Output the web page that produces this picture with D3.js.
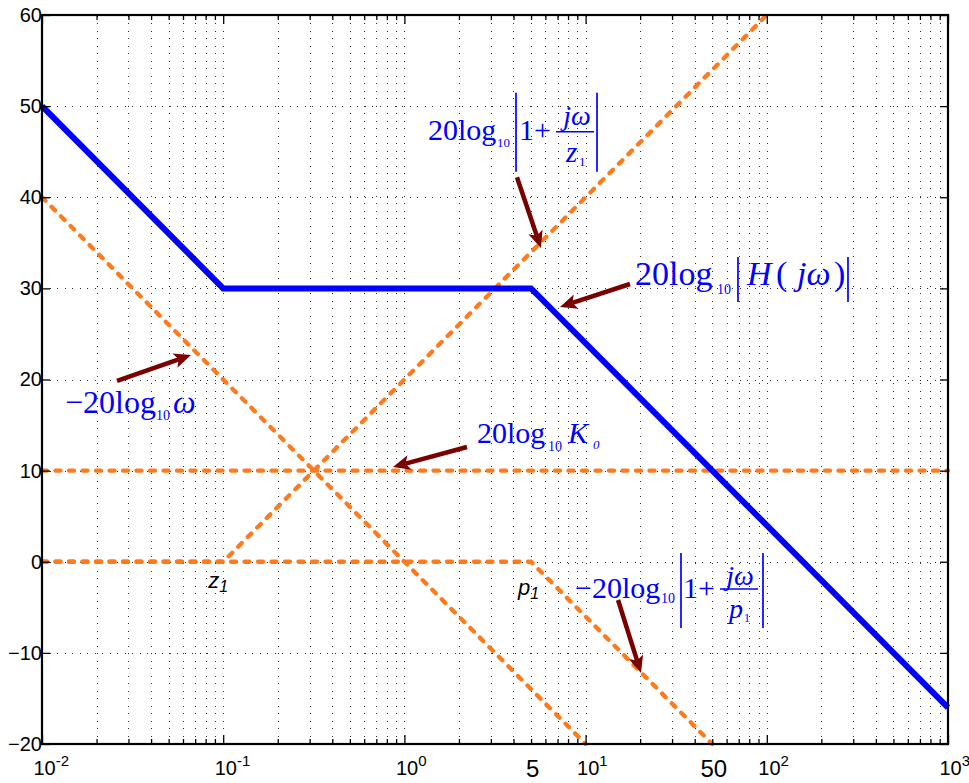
<!DOCTYPE html>
<html>
<head>
<meta charset="utf-8">
<script src="https://cdn.jsdelivr.net/npm/d3@7"></script>
<style>
  html, body { margin: 0; padding: 0; background: #ffffff; }
  svg { display: block; }
</style>
</head>
<body>
<script>
// Asymptotic Bode magnitude plot: H(jω) = K0 (1 + jω/z1) / (jω (1 + jω/p1))

// --- series breakpoints (frequency in rad/s, magnitude in dB) ---
const integratorW  = [0.01, 10];
const integratorDb = [40, -20];

const gainW  = [0.01, 1000];
const gainDb = [10, 10];

const zeroW  = [0.01, 0.1, 100];
const zeroDb = [0, 0, 60];

const poleW  = [0.01, 5, 50];
const poleDb = [0, 0, -20];

const totalW  = [0.01, 0.1, 5, 1000];
const totalDb = [50, 30, 30, -16];

// --- axis ticks ---
const yTicks = [-20, -10, 0, 10, 20, 30, 40, 50, 60];
const decadeTicks = [0.01, 0.1, 1, 10, 100, 1000];
const decadeExps = ["-2", "-1", "0", "1", "2", "3"];
const extraTicks = [5, 50];
const extraTickLabels = ["5", "50"];

// --- break-frequency markers ---
const breakW = [0.1, 5];
const breakNames = ["z", "p"];

// --- annotation arrows (tail -> head, in data units) ---
const arrowFromW  = [4.18, 17.58, 0.02594, 2.215, 15.10];
const arrowFromDb = [42.2, 30.48, 19.84, 12.59, -4.20];
const arrowToW    = [5.67, 7.22, 0.0664, 0.865, 20.22];
const arrowToDb   = [34.43, 27.96, 22.69, 10.40, -12.21];

// --- formula label anchors (data units) ---
const labelAnchorW  = [1.35, 18.73, 0.01339, 2.515, 8.74];
const labelAnchorDb = [46.3, 30.37, 16.32, 13.03, -3.98];

const W = 969, H = 783;
const plot = { left: 42, right: 948, top: 15, bottom: 744 };

const svg = d3.select("body").append("svg")
  .attr("width", W).attr("height", H)
  .attr("viewBox", `0 0 ${W} ${H}`);

const x = d3.scaleLog().domain([1e-2, 1e3]).range([plot.left, plot.right]);
const y = d3.scaleLinear().domain([-20, 60]).range([plot.bottom, plot.top]);

const allLogTicks = x.ticks();
const minorTicks = allLogTicks.filter(d => Math.abs(Math.log10(d) - Math.round(Math.log10(d))) > 1e-9);

const plotW = plot.right - plot.left;
const plotH = plot.bottom - plot.top;
const sansFont = "'Liberation Sans', Arial, Helvetica, sans-serif";

// ---------- grid ----------
const gridX = svg.append("g")
  .attr("transform", `translate(0,${plot.bottom})`)
  .call(d3.axisBottom(x).tickValues(allLogTicks).tickSizeInner(-plotH).tickSizeOuter(0).tickFormat(""));
const gridY = svg.append("g")
  .attr("transform", `translate(${plot.left},0)`)
  .call(d3.axisLeft(y).tickValues(yTicks).tickSizeInner(-plotW).tickSizeOuter(0).tickFormat(""));
[gridX, gridY].forEach(g => {
  g.select(".domain").remove();
  g.attr("shape-rendering", "crispEdges");
  g.selectAll("line")
    .attr("stroke", "#2a2a2a")
    .attr("stroke-width", 1)
    .attr("stroke-dasharray", "1,6.5");
});

// ---------- curves ----------
const line = d3.line().x(d => x(d[0])).y(d => y(d[1]));
const zip = (a, b) => a.map((v, i) => [v, b[i]]);

const orange = "#ff7a1c";
const dashedSeries = [
  zip(integratorW, integratorDb),
  zip(gainW, gainDb),
  zip(zeroW, zeroDb),
  zip(poleW, poleDb)
];
svg.append("g").selectAll("path")
  .data(dashedSeries)
  .join("path")
  .attr("d", line)
  .attr("fill", "none")
  .attr("stroke", orange)
  .attr("stroke-width", 4.3)
  .attr("stroke-linecap", "round")
  .attr("stroke-dasharray", "5,8.5");

svg.append("path")
  .datum(zip(totalW, totalDb))
  .attr("d", line)
  .attr("fill", "none")
  .attr("stroke", "#0000ff")
  .attr("stroke-width", 6)
  .attr("stroke-linejoin", "miter");

// ---------- frame & ticks ----------
svg.append("rect")
  .attr("x", plot.left).attr("y", plot.top)
  .attr("width", plotW).attr("height", plotH)
  .attr("fill", "none").attr("stroke", "#000").attr("stroke-width", 2.2);

function styleTicks(g) {
  g.select(".domain").remove();
  g.selectAll(".tick line").attr("stroke", "#000").attr("stroke-width", 1.3);
  return g;
}

// bottom: decades (labelled 10^n), minor, and the 5 / 50 markers
const xBottom = svg.append("g")
  .attr("transform", `translate(0,${plot.bottom})`)
  .call(d3.axisBottom(x).tickValues(decadeTicks).tickSizeInner(-9).tickSizeOuter(0).tickFormat(""));
styleTicks(xBottom);
xBottom.selectAll(".tick text").remove();
xBottom.selectAll(".tick").each(function(d, i) {
  const t = d3.select(this).append("text")
    .attr("x", -9).attr("y", 31)
    .attr("fill", "#000")
    .attr("font-family", sansFont)
    .attr("font-size", 20)
    .attr("text-anchor", "start");
  t.append("tspan").text("10");
  t.append("tspan").attr("dy", -9).attr("font-size", 15).text(decadeExps[i]);
});

styleTicks(svg.append("g")
  .attr("transform", `translate(0,${plot.bottom})`)
  .call(d3.axisBottom(x).tickValues(minorTicks).tickSizeInner(-5).tickSizeOuter(0).tickFormat("")));

const xExtra = svg.append("g")
  .attr("transform", `translate(0,${plot.bottom})`)
  .call(d3.axisBottom(x).tickValues(extraTicks).tickSize(0).tickFormat((d, i) => extraTickLabels[i]));
xExtra.select(".domain").remove();
xExtra.selectAll(".tick text")
  .attr("y", 33).attr("dy", 0).attr("x", 1)
  .attr("fill", "#000")
  .attr("font-family", sansFont)
  .attr("font-size", 24);

// top
styleTicks(svg.append("g")
  .attr("transform", `translate(0,${plot.top})`)
  .call(d3.axisTop(x).tickValues(decadeTicks).tickSizeInner(-9).tickSizeOuter(0).tickFormat("")));
styleTicks(svg.append("g")
  .attr("transform", `translate(0,${plot.top})`)
  .call(d3.axisTop(x).tickValues(minorTicks).tickSizeInner(-5).tickSizeOuter(0).tickFormat("")));

// left (labelled) and right
const yLeft = svg.append("g")
  .attr("transform", `translate(${plot.left},0)`)
  .call(d3.axisLeft(y).tickValues(yTicks).tickSizeInner(-8).tickSizeOuter(0).tickPadding(0));
styleTicks(yLeft);
yLeft.selectAll(".tick text")
  .attr("x", 0)
  .attr("fill", "#000")
  .attr("font-family", sansFont)
  .attr("font-size", 20);

styleTicks(svg.append("g")
  .attr("transform", `translate(${plot.right},0)`)
  .call(d3.axisRight(y).tickValues(yTicks).tickSizeInner(-8).tickSizeOuter(0).tickFormat("")));

// ---------- break-frequency names (z1, p1) ----------
const breakOffsets = [[-15, 26], [-13, 33]];
breakW.forEach((w, i) => {
  const t = svg.append("text")
    .attr("x", x(w) + breakOffsets[i][0])
    .attr("y", y(0) + breakOffsets[i][1])
    .attr("fill", "#000")
    .attr("font-family", sansFont)
    .attr("font-style", "italic")
    .attr("font-size", 22);
  t.append("tspan").text(breakNames[i]);
  t.append("tspan").attr("dy", 4).attr("font-size", 16).text("1");
});

// ---------- formula labels ----------
const blue = "#0000ff";
function drawMath(w, db, pieces) {
  const g = svg.append("g")
    .attr("transform", `translate(${x(w)},${y(db)})`)
    .attr("fill", blue)
    .attr("font-family", "'Liberation Serif', 'Times New Roman', serif");
  pieces.forEach(p => {
    if (p.bar) {
      g.append("line").attr("x1", p.x).attr("x2", p.x).attr("y1", p.y1).attr("y2", p.y2)
        .attr("stroke", blue).attr("stroke-width", 1.7);
    } else if (p.rule) {
      g.append("line").attr("x1", p.x1).attr("x2", p.x2).attr("y1", p.y).attr("y2", p.y)
        .attr("stroke", blue).attr("stroke-width", 1.5);
    } else {
      g.append("text")
        .attr("x", p.x).attr("y", p.y)
        .attr("font-size", p.s)
        .attr("font-style", p.i ? "italic" : "normal")
        .attr("text-anchor", p.a || "start")
        .text(p.t);
    }
  });
}

// 20log10 |1 + jω/z1|
drawMath(labelAnchorW[0], labelAnchorDb[0], [
  { t: "20log", x: 0, y: 0, s: 30 },
  { t: "10", x: 69, y: 7, s: 13 },
  { bar: true, x: 88, y1: -47, y2: 32 },
  { t: "1+", x: 91, y: 0, s: 30 },
  { t: "jω", x: 149, y: -15, s: 28, i: true, a: "middle" },
  { rule: true, x1: 128, x2: 166, y: -8 },
  { t: "z", x: 138, y: 22, s: 29, i: true },
  { t: "1", x: 151, y: 26, s: 13 },
  { bar: true, x: 169, y1: -47, y2: 32 }
]);

// 20log10 |H(jω)|
drawMath(labelAnchorW[1], labelAnchorDb[1], [
  { t: "20log", x: 0, y: 0, s: 34 },
  { t: "10", x: 82, y: 9, s: 14 },
  { bar: true, x: 103, y1: -28, y2: 17 },
  { t: "H", x: 112, y: 0, s: 34, i: true },
  { t: "(", x: 141, y: 0, s: 34 },
  { t: "jω", x: 162, y: 0, s: 34, i: true },
  { t: ")", x: 199, y: 0, s: 34 },
  { bar: true, x: 213, y1: -28, y2: 17 }
]);

// −20log10 ω
drawMath(labelAnchorW[2], labelAnchorDb[2], [
  { t: "−20log", x: 0, y: 0, s: 32 },
  { t: "10", x: 91, y: 7, s: 14 },
  { t: "ω", x: 108, y: 0, s: 32, i: true }
]);

// 20log10 K0
drawMath(labelAnchorW[3], labelAnchorDb[3], [
  { t: "20log", x: 0, y: 0, s: 30 },
  { t: "10", x: 71, y: 8, s: 14 },
  { t: "K", x: 91, y: 0, s: 30, i: true },
  { t: "0", x: 116, y: 6, s: 13, i: true }
]);

// −20log10 |1 + jω/p1|
drawMath(labelAnchorW[4], labelAnchorDb[4], [
  { t: "−20log", x: 0, y: 0, s: 30 },
  { t: "10", x: 86, y: 5, s: 14 },
  { bar: true, x: 106, y1: -45, y2: 30 },
  { t: "1+", x: 108, y: 0, s: 30 },
  { t: "jω", x: 165, y: -13, s: 28, i: true, a: "middle" },
  { rule: true, x1: 145, x2: 183, y: -9 },
  { t: "p", x: 154, y: 20, s: 28, i: true },
  { t: "1", x: 169, y: 24, s: 12 },
  { bar: true, x: 188, y1: -45, y2: 30 }
]);

// ---------- arrows ----------
const arrowColor = "#7a0000";
const arrows = arrowFromW.map((w, i) => ({
  x1: x(w), y1: y(arrowFromDb[i]),
  x2: x(arrowToW[i]), y2: y(arrowToDb[i])
}));
const headLen = 17, headHalf = 7.5, notch = 4;
const ag = svg.append("g");
arrows.forEach(a => {
  const dx = a.x2 - a.x1, dy = a.y2 - a.y1;
  const len = Math.hypot(dx, dy);
  const ux = dx / len, uy = dy / len;
  const nx = -uy, ny = ux;
  const bx = a.x2 - ux * headLen, by = a.y2 - uy * headLen;
  ag.append("line")
    .attr("x1", a.x1).attr("y1", a.y1)
    .attr("x2", bx + ux * notch).attr("y2", by + uy * notch)
    .attr("stroke", arrowColor).attr("stroke-width", 4.5);
  const pts = [
    [a.x2, a.y2],
    [bx + nx * headHalf, by + ny * headHalf],
    [bx + ux * notch, by + uy * notch],
    [bx - nx * headHalf, by - ny * headHalf]
  ];
  ag.append("polygon")
    .attr("points", pts.map(p => p.join(",")).join(" "))
    .attr("fill", arrowColor);
});
</script>
</body>
</html>
